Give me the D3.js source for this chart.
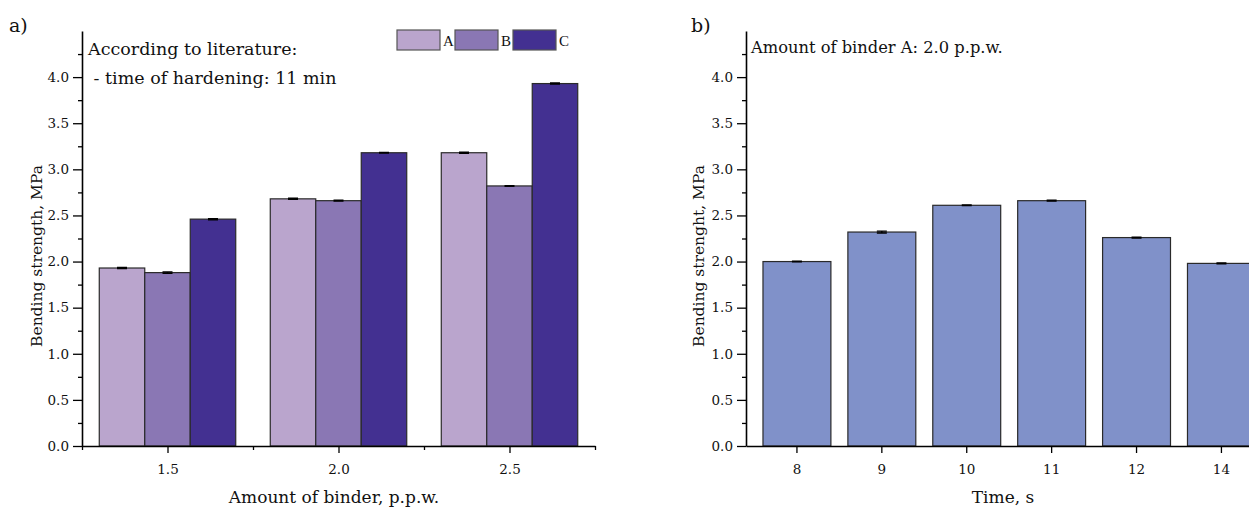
<!DOCTYPE html>
<html><head><meta charset="utf-8">
<script src="https://cdn.jsdelivr.net/npm/d3@7"></script>
<style>
body{margin:0;background:#fff;}
svg text{font-family:"DejaVu Serif","Liberation Serif",serif;fill:#111;}
</style></head>
<body>
<svg id="chart" width="1249" height="513"></svg>
<script>
// Panel a data
const binderAmounts = [1.5, 2.0, 2.5];
const seriesNames = ["A", "B", "C"];
const valuesA = [1.93, 2.68, 3.18];
const valuesB = [1.88, 2.66, 2.82];
const valuesC = [2.46, 3.18, 3.93];
const errA = [0.006, 0.006, 0.006];
const errB = [0.008, 0.004, 0.003];
const errC = [0.006, 0.004, 0.006];
const yTicks = [0, 0.5, 1.0, 1.5, 2.0, 2.5, 3.0, 3.5, 4.0];
const xTicksA = [1.5, 2.0, 2.5];
// Panel b data
const times = ["8", "9", "10", "11", "12", "14"];
const valuesTime = [2.0, 2.32, 2.61, 2.66, 2.26, 1.98];
const errTime = [0.004, 0.01, 0.004, 0.004, 0.005, 0.004];

const colors = {A:"#baa5cd", B:"#8a77b4", C:"#433091"};
const colorB = "#8091c9";

const svg = d3.select("#chart");
const y = d3.scaleLinear().domain([0, 4.5]).range([446, 31]);

function drawYAxis(g, x0){
  const minor = d3.range(0.25, 4.51, 0.5);
  g.append("g").attr("transform",`translate(${x0},0)`)
    .call(d3.axisLeft(y).tickValues(minor).tickSize(4).tickFormat(""))
    .call(s=>s.select(".domain").remove());
  const ax = g.append("g").attr("transform",`translate(${x0},0)`)
    .call(d3.axisLeft(y).tickValues(yTicks).tickSize(9).tickSizeOuter(0).tickPadding(4).tickFormat(d3.format(".1f")));
  ax.selectAll("text").style("font-size","13.5px");
  ax.select(".domain").attr("stroke-width",1.6);
  g.selectAll(".tick line").attr("stroke-width",1.3);
}

// ---------- Panel a ----------
const ga = svg.append("g");
const xa = d3.scaleLinear().domain([1.25, 2.75]).range([82, 595]);
const barW = 0.133;
const seriesVals = [valuesA, valuesB, valuesC];
const seriesErr = [errA, errB, errC];
const offs = d3.scaleBand().domain(seriesNames).range([-1.5*barW, 1.5*barW]);

seriesNames.forEach((s, si) => {
  const gs = ga.append("g");
  gs.selectAll("rect").data(binderAmounts).join("rect")
    .attr("x", (d) => xa(d + offs(s)))
    .attr("width", (d) => xa(d + offs(s) + barW) - xa(d + offs(s)))
    .attr("y", (d, i) => y(seriesVals[si][i]))
    .attr("height", (d, i) => y(0) - y(seriesVals[si][i]))
    .attr("fill", colors[s]).attr("stroke", "#2a2a2a").attr("stroke-width", 1.2);
  gs.selectAll("path.err").data(binderAmounts).join("path").attr("class","err")
    .attr("d", (d, i) => {
      const cx = xa(d + offs(s) + barW/2), v = seriesVals[si][i], e = seriesErr[si][i];
      return `M${cx-5},${y(v+e)}H${cx+5}M${cx},${y(v+e)}V${y(v-e)}M${cx-5},${y(v-e)}H${cx+5}`;
    }).attr("stroke","#000").attr("stroke-width",1.4).attr("fill","none");
});

drawYAxis(ga, 82);
ga.append("g").attr("transform","translate(0,446)")
  .call(d3.axisBottom(xa).tickValues([1.25,1.75,2.25,2.75]).tickSize(4).tickFormat(""))
  .call(s=>s.select(".domain").remove());
const axa = ga.append("g").attr("transform","translate(0,446)")
  .call(d3.axisBottom(xa).tickValues(xTicksA).tickSize(7).tickSizeOuter(0).tickPadding(11).tickFormat(d3.format(".1f")));
axa.selectAll("text").style("font-size","13.5px");
axa.select(".domain").attr("stroke-width",1.6);
ga.selectAll(".tick line").attr("stroke-width",1.3);

ga.append("text").attr("x", 334).attr("y", 503).attr("text-anchor","middle")
  .style("font-size","17px").text("Amount of binder, p.p.w.");
ga.append("text").attr("transform","translate(42,256) rotate(-90)").attr("text-anchor","middle")
  .style("font-size","15.5px").text("Bending strength, MPa");
ga.append("text").attr("x", 88).attr("y", 55).style("font-size","17.5px").text("According to literature:");
ga.append("text").attr("x", 88).attr("y", 84).style("font-size","17.5px").attr("xml:space","preserve").text(" - time of hardening: 11 min");
ga.append("text").attr("x", 9).attr("y", 32).style("font-size","19px").text("a)");

const legX = [397, 455, 513];
seriesNames.forEach((s, i) => {
  ga.append("rect").attr("x", legX[i]).attr("y", 30).attr("width", 43).attr("height", 20)
    .attr("fill", colors[s]).attr("stroke", "#555").attr("stroke-width", 1.2);
  ga.append("text").attr("x", legX[i] + 46).attr("y", 46).style("font-size","15px")
    .style("font-family","Liberation Serif").text(s);
});

// ---------- Panel b ----------
const gb = svg.append("g");
const step = 84.9;
const xb = d3.scaleBand().domain(times).range([746, 746 + step*(times.length + 0.2)])
  .paddingInner(0.2).paddingOuter(0.2).align(0.5);
gb.selectAll("rect").data(times).join("rect")
  .attr("x", d => xb(d)).attr("width", xb.bandwidth())
  .attr("y", (d, i) => y(valuesTime[i])).attr("height", (d, i) => y(0) - y(valuesTime[i]))
  .attr("fill", colorB).attr("stroke", "#2a2a2a").attr("stroke-width", 1.2);
gb.selectAll("path.err").data(times).join("path").attr("class","err")
  .attr("d", (d, i) => {
    const cx = xb(d) + xb.bandwidth()/2, v = valuesTime[i], e = errTime[i];
    return `M${cx-5},${y(v+e)}H${cx+5}M${cx},${y(v+e)}V${y(v-e)}M${cx-5},${y(v-e)}H${cx+5}`;
  }).attr("stroke","#000").attr("stroke-width",1.4).attr("fill","none");

drawYAxis(gb, 746);
const axb = gb.append("g").attr("transform","translate(0,446)")
  .call(d3.axisBottom(xb).tickSize(7).tickSizeOuter(0).tickPadding(11));
axb.selectAll("text").style("font-size","13.5px");
axb.select(".domain").attr("stroke-width",1.6);
gb.selectAll(".tick line").attr("stroke-width",1.3);

gb.append("text").attr("x", 1003).attr("y", 503).attr("text-anchor","middle")
  .style("font-size","17px").text("Time, s");
gb.append("text").attr("transform","translate(704,256) rotate(-90)").attr("text-anchor","middle")
  .style("font-size","15.5px").text("Bending strenght, MPa");
gb.append("text").attr("x", 751).attr("y", 53).style("font-size","16.3px").text("Amount of binder A: 2.0 p.p.w.");
gb.append("text").attr("x", 691).attr("y", 32).style("font-size","19px").text("b)");
</script>
</body></html>
